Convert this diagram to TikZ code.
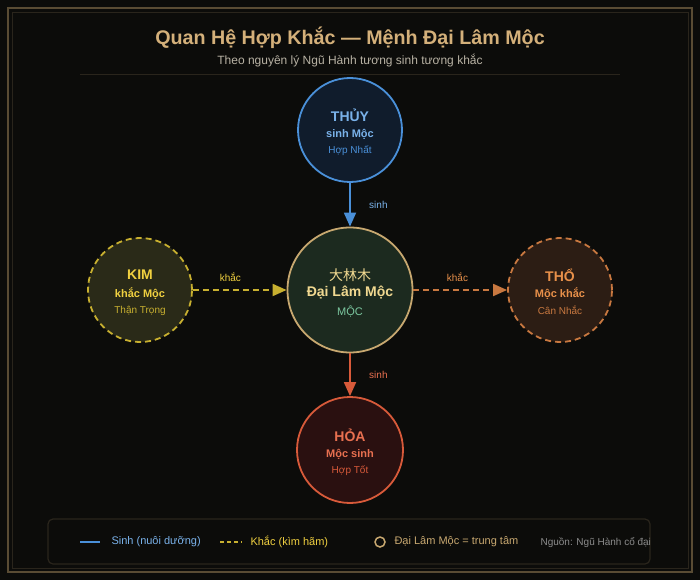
\documentclass[tikz,border=0pt]{standalone}
\usepackage{fontspec}
\setmainfont{Liberation Sans}
\newfontfamily\cjk{Noto Sans CJK SC}
\usetikzlibrary{arrows.meta}
\definecolor{bgdark}{HTML}{0C0C0A}
\definecolor{gold}{HTML}{D4B07A}
\definecolor{frame}{HTML}{5A4C34}
\definecolor{framein}{HTML}{2A251C}
\definecolor{subgrey}{HTML}{B8B2A4}
\definecolor{thuy}{HTML}{4A90D9}
\definecolor{thuyfill}{HTML}{101C2C}
\definecolor{thuytext}{HTML}{7AB2EA}
\definecolor{moc}{HTML}{C8A870}
\definecolor{mocfill}{HTML}{1C2A1F}
\definecolor{moctext}{HTML}{F0D890}
\definecolor{mocgreen}{HTML}{7CC8A0}
\definecolor{kim}{HTML}{C8B030}
\definecolor{kimfill}{HTML}{2A2A18}
\definecolor{kimtext}{HTML}{F0D040}
\definecolor{tho}{HTML}{C87840}
\definecolor{thofill}{HTML}{2C1D14}
\definecolor{thotext}{HTML}{E8904A}
\definecolor{hoa}{HTML}{D85A3A}
\definecolor{hoafill}{HTML}{2A1010}
\definecolor{hoatext}{HTML}{E87050}

\begin{document}
\begin{tikzpicture}[x=1pt,y=-1pt,
    elem/.style={circle,line width=1.8pt,minimum size=104pt,inner sep=0pt},
    sinhline/.style={line width=1.8pt,-{Triangle[length=14pt,width=12pt]}},
    khacline/.style={line width=1.8pt,dash pattern=on 6pt off 4pt,-{Triangle[length=14pt,width=12pt]}},
    lbl/.style={font=\fontsize{10}{11}\selectfont}]
    % nen va khung
    \fill[bgdark] (0,0) rectangle (700,580);
    \draw[frame,line width=1.5pt] (8,8) rectangle (692,572);
    \draw[framein,line width=0.8pt] (12,12) rectangle (688,568);
    \node at(350,38)[gold,font=\bfseries\fontsize{19.7}{22}\selectfont](title){Quan Hệ Hợp Khắc — Mệnh Đại Lâm Mộc};
    \node at(350,61)[subgrey,font=\fontsize{12}{14}\selectfont](sub){Theo nguyên lý Ngũ Hành tương sinh tương khắc};
    \draw[framein,line width=1pt] (80,75) -- (620,75);
    % cac hanh
    \node at(350,290)[elem,draw=moc,fill=mocfill,minimum size=125pt](moc){};
    \node at(350,130)[elem,draw=thuy,fill=thuyfill](thuy){};
    \node at(140,290)[elem,draw=kim,fill=kimfill,dash pattern=on 6pt off 4pt](kim){};
    \node at(560,290)[elem,draw=tho,fill=thofill,dash pattern=on 6pt off 4pt](tho){};
    \node at(350,450)[elem,draw=hoa,fill=hoafill,minimum size=106pt](hoa){};
    \foreach \n/\c/\a/\b/\d in {
        thuy/thuytext/THỦY/sinh Mộc/Hợp Nhất,
        kim/kimtext/KIM/khắc Mộc/Thận Trọng,
        tho/thotext/THỔ/Mộc khắc/Cân Nhắc,
        hoa/hoatext/HỎA/Mộc sinh/Hợp Tốt
    }
    \node at(\n.center)[yshift=15pt,\c,font=\bfseries\fontsize{14}{16}\selectfont](\n-name){\a}
        node at(\n.center)[yshift=-4pt,\c,font=\bfseries\fontsize{11}{13}\selectfont](\n-rel){\b}
        node at(\n.center)[yshift=-20.5pt,\n,font=\fontsize{10}{12}\selectfont](\n-note){\d};
    \node at(350,275)[moctext,font=\cjk\fontsize{14}{16}\selectfont](moc-han){大林木};
    \node at(350,293)[moctext,font=\bfseries\fontsize{14}{16}\selectfont](moc-name){Đại Lâm Mộc};
    \node at(350,312)[mocgreen,font=\fontsize{11}{13}\selectfont](moc-el){MỘC};
    % quan he
    \draw[sinhline,thuy] (thuy) -- (moc) node[midway,right=15pt,lbl,thuytext]{sinh};
    \draw[sinhline,hoa] (moc) -- (hoa) node[midway,right=15pt,lbl,hoatext]{sinh};
    \draw[khacline,kim] (kim) -- (moc) node[pos=0.4,above=4pt,lbl,kimtext]{khắc};
    \draw[khacline,tho] (moc) -- (tho) node[pos=0.47,above=4pt,lbl,thotext]{khắc};
    % chu thich
    \draw[framein,line width=1.2pt,rounded corners=5pt,fill=bgdark] (48,519) rectangle (650,564);
    \draw[thuy,line width=1.5pt] (80,542) -- (100,542);
    \node at(108,542)[anchor=west,thuytext,font=\fontsize{11}{13}\selectfont](leg-sinh){Sinh (nuôi dưỡng)};
    \draw[kim,line width=1.5pt,dash pattern=on 4pt off 3pt] (220,542) -- (242,542);
    \node at(247,542)[anchor=west,kimtext,font=\fontsize{11}{13}\selectfont](leg-khac){Khắc (kìm hãm)};
    \draw[moc,line width=1.5pt] (380,542) circle (5);
    \node at(391,542)[anchor=west,moc,font=\fontsize{11}{13}\selectfont](leg-moc){Đại Lâm Mộc = trung tâm};
    \node at(537,542)[anchor=west,gray!90,font=\fontsize{10}{12}\selectfont](leg-src){Nguồn: Ngũ Hành cổ đại};
\end{tikzpicture}
\end{document}
